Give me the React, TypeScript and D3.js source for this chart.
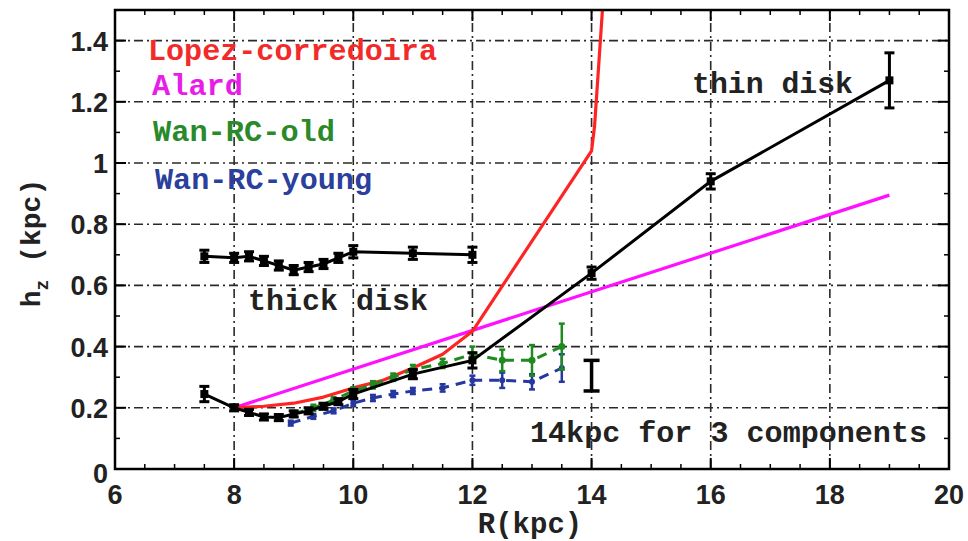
import React from "react";
import * as d3 from "d3";

const W = 968;
const H = 541;

// Thick disk (black, squares with error bars)
const thickR = [7.5, 8, 8.25, 8.5, 8.75, 9, 9.25, 9.5, 9.75, 10, 11, 12];
const thickH = [0.695, 0.69, 0.695, 0.68, 0.665, 0.65, 0.66, 0.67, 0.69, 0.71, 0.705, 0.70];
const thickE = [0.02, 0.015, 0.015, 0.015, 0.015, 0.015, 0.015, 0.015, 0.015, 0.02, 0.02, 0.025];

// Thin disk (black)
const thinR = [7.5, 8, 8.25, 8.5, 8.75, 9, 9.25, 9.5, 9.75, 10, 11, 12, 14, 16, 19];
const thinH = [0.245, 0.2, 0.185, 0.17, 0.168, 0.18, 0.19, 0.205, 0.22, 0.245, 0.31, 0.355, 0.64, 0.94, 1.27];
const thinE = [0.025, 0.01, 0.01, 0.01, 0.01, 0.01, 0.01, 0.01, 0.01, 0.015, 0.015, 0.025, 0.02, 0.025, 0.09];

// Lopez-Corredoira (red)
const lopezR = [8, 8.5, 9, 9.5, 10, 10.5, 11, 11.5, 12, 14, 14.05, 14.2];
const lopezH = [0.2, 0.205, 0.215, 0.235, 0.265, 0.29, 0.33, 0.375, 0.45, 1.04, 1.12, 1.55];

// Alard (magenta)
const alardR = [8, 19];
const alardH = [0.2, 0.895];

// Wan RC old (green)
const oldR = [9, 9.33, 9.67, 10, 10.33, 10.67, 11, 11.5, 12, 12.5, 13, 13.5];
const oldH = [0.18, 0.2, 0.225, 0.255, 0.275, 0.3, 0.325, 0.345, 0.375, 0.355, 0.355, 0.4];
const oldE = [0.01, 0.01, 0.01, 0.012, 0.012, 0.012, 0.015, 0.015, 0.025, 0.035, 0.05, 0.075];

// Wan RC young (blue)
const youngR = [8.95, 9.33, 9.67, 10, 10.33, 10.67, 11, 11.5, 12, 12.5, 13, 13.5];
const youngH = [0.15, 0.172, 0.19, 0.215, 0.232, 0.245, 0.255, 0.265, 0.29, 0.29, 0.285, 0.33];
const youngE = [0.008, 0.008, 0.008, 0.01, 0.01, 0.01, 0.01, 0.012, 0.015, 0.025, 0.025, 0.045];

// Lone error bar at 14 kpc
const loneR = [14];
const loneH = [0.305];
const loneE = [0.05];

const xTicks = [6, 8, 10, 12, 14, 16, 18, 20];
const yTicks = [0, 0.2, 0.4, 0.6, 0.8, 1, 1.2, 1.4];
const yTickLabels = ["0", "0.2", "0.4", "0.6", "0.8", "1", "1.2", "1.4"];

const legendNames = ["Lopez-corredoira", "Alard", "Wan-RC-old", "Wan-RC-young"];
const legendColors = ["#f22a2a", "#e81ee8", "#2a8a2a", "#2b3f9c"];

const RED = "#ff2424";
const MAG = "#ff10ff";
const GREEN = "#1f8a1f";
const BLUE = "#2638a0";

export default function App() {
  const x = d3.scaleLinear().domain([6, 20]).range([115, 949]);
  const y = d3.scaleLinear().domain([0, 1.5]).range([469, 10]);
  const [x0, x1] = x.range();
  const [y0, y1] = y.range();

  const line = (rs: number[], hs: number[]) =>
    d3.line<number>().x((_, i) => x(rs[i])).y((_, i) => y(hs[i]))(rs.map((_, i) => i)) || "";

  const xMinor = d3.range(6, 20.001, 0.5).filter((v) => Math.abs(v % 2) > 1e-6);
  const yMinor = d3.range(0.1, 1.5, 0.2);

  const errBars = (rs: number[], hs: number[], es: number[], color: string, cap: number, sw: number) =>
    rs.map((r, i) => {
      const cx = x(r);
      const yt = y(hs[i] + es[i]);
      const yb = y(hs[i] - es[i]);
      return (
        <g key={i} stroke={color} strokeWidth={sw} fill="none">
          <line x1={cx} x2={cx} y1={yt} y2={yb} />
          <line x1={cx - cap / 2} x2={cx + cap / 2} y1={yt} y2={yt} />
          <line x1={cx - cap / 2} x2={cx + cap / 2} y1={yb} y2={yb} />
        </g>
      );
    });

  const gridStyle = { stroke: "#2a2a2a", strokeWidth: 1.6, strokeDasharray: "9,4,2,4" };
  const mono = "'Liberation Mono', 'DejaVu Sans Mono', monospace";
  const sans = "'Liberation Sans', Arial, sans-serif";

  return (
    <svg width={W} height={H} style={{ position: "absolute", left: 0, top: 0, background: "#fff" }}>
      <defs>
        <clipPath id="plotclip">
          <rect x={x0} y={y1} width={x1 - x0} height={y0 - y1} />
        </clipPath>
      </defs>
      {/* grid */}
      {xTicks.slice(1, -1).map((t) => (
        <line key={"gx" + t} x1={x(t)} x2={x(t)} y1={y0} y2={y1} style={gridStyle} />
      ))}
      {yTicks.slice(1).map((t) => (
        <line key={"gy" + t} x1={x0} x2={x1} y1={y(t)} y2={y(t)} style={gridStyle} />
      ))}

      <g clipPath="url(#plotclip)">
        {/* Alard */}
        <path d={line(alardR, alardH)} stroke={MAG} strokeWidth={3.2} fill="none" />
        {/* Lopez */}
        <path d={line(lopezR, lopezH)} stroke={RED} strokeWidth={3.2} fill="none" strokeLinejoin="round" />
        {/* Wan young */}
        <path d={line(youngR, youngH)} stroke={BLUE} strokeWidth={3} fill="none" strokeDasharray="10,7" />
        {errBars(youngR, youngH, youngE, BLUE, 6, 2.5)}
        {youngR.map((r, i) => (
          <circle key={"yc" + i} cx={x(r)} cy={y(youngH[i])} r={3} fill={BLUE} />
        ))}
        {/* Wan old */}
        <path d={line(oldR, oldH)} stroke={GREEN} strokeWidth={3} fill="none" strokeDasharray="10,7" />
        {errBars(oldR, oldH, oldE, GREEN, 6, 2.5)}
        {oldR.map((r, i) => (
          <circle key={"oc" + i} cx={x(r)} cy={y(oldH[i])} r={3.5} fill={GREEN} />
        ))}
        {/* thin disk */}
        <path d={line(thinR, thinH)} stroke="#000" strokeWidth={3} fill="none" />
        {errBars(thinR, thinH, thinE, "#000", 10, 3)}
        {thinR.map((r, i) => (
          <rect key={"tn" + i} x={x(r) - 4} y={y(thinH[i]) - 4} width={8} height={8} fill="#000" />
        ))}
        {/* thick disk */}
        <path d={line(thickR, thickH)} stroke="#000" strokeWidth={3} fill="none" />
        {errBars(thickR, thickH, thickE, "#000", 10, 3)}
        {thickR.map((r, i) => (
          <rect key={"tk" + i} x={x(r) - 4} y={y(thickH[i]) - 4} width={8} height={8} fill="#000" />
        ))}
        {/* lone error bar */}
        {errBars(loneR, loneH, loneE, "#000", 16, 3.5)}
      </g>

      {/* frame */}
      <rect x={x0} y={y1} width={x1 - x0} height={y0 - y1} fill="none" stroke="#000" strokeWidth={2.5} />
      {/* ticks */}
      {xTicks.map((t) => (
        <g key={"xt" + t} stroke="#000" strokeWidth={2}>
          <line x1={x(t)} x2={x(t)} y1={y0} y2={y0 - 11} />
          <line x1={x(t)} x2={x(t)} y1={y1} y2={y1 + 11} />
        </g>
      ))}
      {xMinor.map((t) => (
        <g key={"xm" + t} stroke="#000" strokeWidth={1.5}>
          <line x1={x(t)} x2={x(t)} y1={y0} y2={y0 - 5} />
          <line x1={x(t)} x2={x(t)} y1={y1} y2={y1 + 5} />
        </g>
      ))}
      {yTicks.map((t) => (
        <g key={"yt" + t} stroke="#000" strokeWidth={2}>
          <line x1={x0} x2={x0 + 11} y1={y(t)} y2={y(t)} />
          <line x1={x1} x2={x1 - 11} y1={y(t)} y2={y(t)} />
        </g>
      ))}
      {yMinor.map((t) => (
        <g key={"ym" + t} stroke="#000" strokeWidth={1.5}>
          <line x1={x0} x2={x0 + 5} y1={y(t)} y2={y(t)} />
          <line x1={x1} x2={x1 - 5} y1={y(t)} y2={y(t)} />
        </g>
      ))}

      {/* tick labels */}
      {xTicks.map((t) => (
        <text key={"xl" + t} x={x(t)} y={504} textAnchor="middle" fontFamily={sans} fontWeight="bold" fontSize={27} fill="#222">
          {t}
        </text>
      ))}
      {yTicks.map((t, i) => (
        <text key={"yl" + t} x={108} y={y(t) + (t === 0 ? 14 : 10)} textAnchor="end" fontFamily={sans} fontWeight="bold" fontSize={27} fill="#222">
          {yTickLabels[i]}
        </text>
      ))}

      {/* axis titles */}
      <text x={530} y={533} textAnchor="middle" fontFamily={mono} fontWeight="bold" fontSize={29} fill="#222">
        R(kpc)
      </text>
      <text transform="translate(40,243) rotate(-90)" textAnchor="middle" fontFamily={mono} fontWeight="bold" fontSize={28} fill="#222">
        h<tspan dy={8} fontSize={18}>z</tspan>
        <tspan dy={-8}> (kpc)</tspan>
      </text>

      {/* legend */}
      {legendNames.map((n, i) => (
        <text
          key={n}
          x={[148, 152, 153, 155][i]}
          y={[60, 95, 141, 189][i]}
          fontFamily={mono}
          fontWeight="bold"
          fontSize={29}
          fill={legendColors[i]}
          textLength={[289, 91, 182, 217][i]}
          lengthAdjust="spacingAndGlyphs"
        >
          {n}
        </text>
      ))}

      {/* annotations */}
      <text x={248} y={310} fontFamily={mono} fontWeight="bold" fontSize={29} fill="#222" textLength={180} lengthAdjust="spacingAndGlyphs">
        thick disk
      </text>
      <text x={692} y={93} fontFamily={mono} fontWeight="bold" fontSize={29} fill="#222" textLength={161} lengthAdjust="spacingAndGlyphs">
        thin disk
      </text>
      <text x={530} y={442} fontFamily={mono} fontWeight="bold" fontSize={29} fill="#222" textLength={397} lengthAdjust="spacingAndGlyphs">
        14kpc for 3 components
      </text>
    </svg>
  );
}
